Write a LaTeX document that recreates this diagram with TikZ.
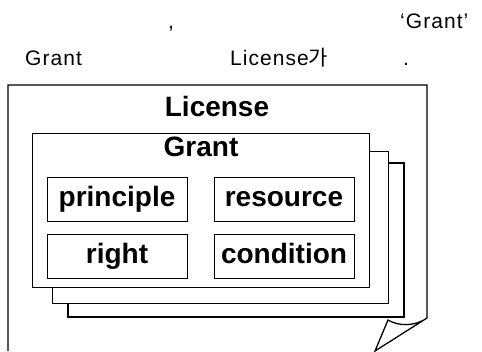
\documentclass[tikz,border=0pt]{standalone}
\usepackage{fontspec}
\setmainfont{Liberation Sans}
\newfontfamily\kofont{Noto Sans CJK KR}
\newfontfamily\notefont[LetterSpace=5]{Liberation Sans}
\usetikzlibrary{shapes, fit, positioning}

\begin{document}
\begin{tikzpicture}[x=1pt, y=-1pt]
\tikzstyle{grant_page}=[rectangle, draw, line width=0.9pt, fill=white, inner sep=0]
\tikzstyle{big_label}=[font=\fontsize{28}{30}\selectfont\bfseries]
\tikzstyle{field_box}=[rectangle, draw, line width=0.8pt, minimum width=140pt, minimum height=44pt, inner sep=0, text height=20pt, text depth=5pt, big_label]
\tikzstyle{note}=[inner sep=0, anchor=base west, font=\notefont\fontsize{21}{23}\selectfont]

\useasboundingbox (0,0) rectangle (482,351);

\node[note] at (168,28) (comma) {,};
\node[note] at (400,28) (quoted) {‘Grant’};
\node[note] at (25,65) (word1) {Grant};
\node[note] at (230,65) (word2) {License{\kofont 가}};
\node[note] at (403,65) (dot) {.};

%license sheet
\coordinate (lic_bl) at (8,351);
\coordinate (lic_tl) at (8,85);
\coordinate (lic_tr) at (427,85);
\coordinate (lic_br) at (427,318);
\coordinate (fold) at (388,320);
\coordinate (tip) at (375,351);
\draw[line width=1.3pt, line join=miter] (lic_bl) -- (lic_tl) -- (lic_tr) -- (lic_br) .. controls (414,327) and (398,326) .. (fold) -- (tip) -- (lic_br);
\node[big_label] at (217,106) (license) {License};

\node[grant_page, line width=1.2pt, minimum width=336pt, minimum height=154pt] at (236,240) (grant3) {};
\node[grant_page, minimum width=336pt, minimum height=152pt] at (220,227) (grant2) {};
\node[grant_page, minimum width=337pt, minimum height=154pt] at (200.5,210) (grant1) {};
\node[big_label] at (201,147) (grant) {Grant};

\node[field_box] at (117,199) (principle) {principle};
\node[field_box] at (284,199) (resource) {resource};
\node[field_box] at (117,256) (right) {right};
\node[field_box] at (284,256) (condition) {condition};

\end{tikzpicture}
\end{document}
